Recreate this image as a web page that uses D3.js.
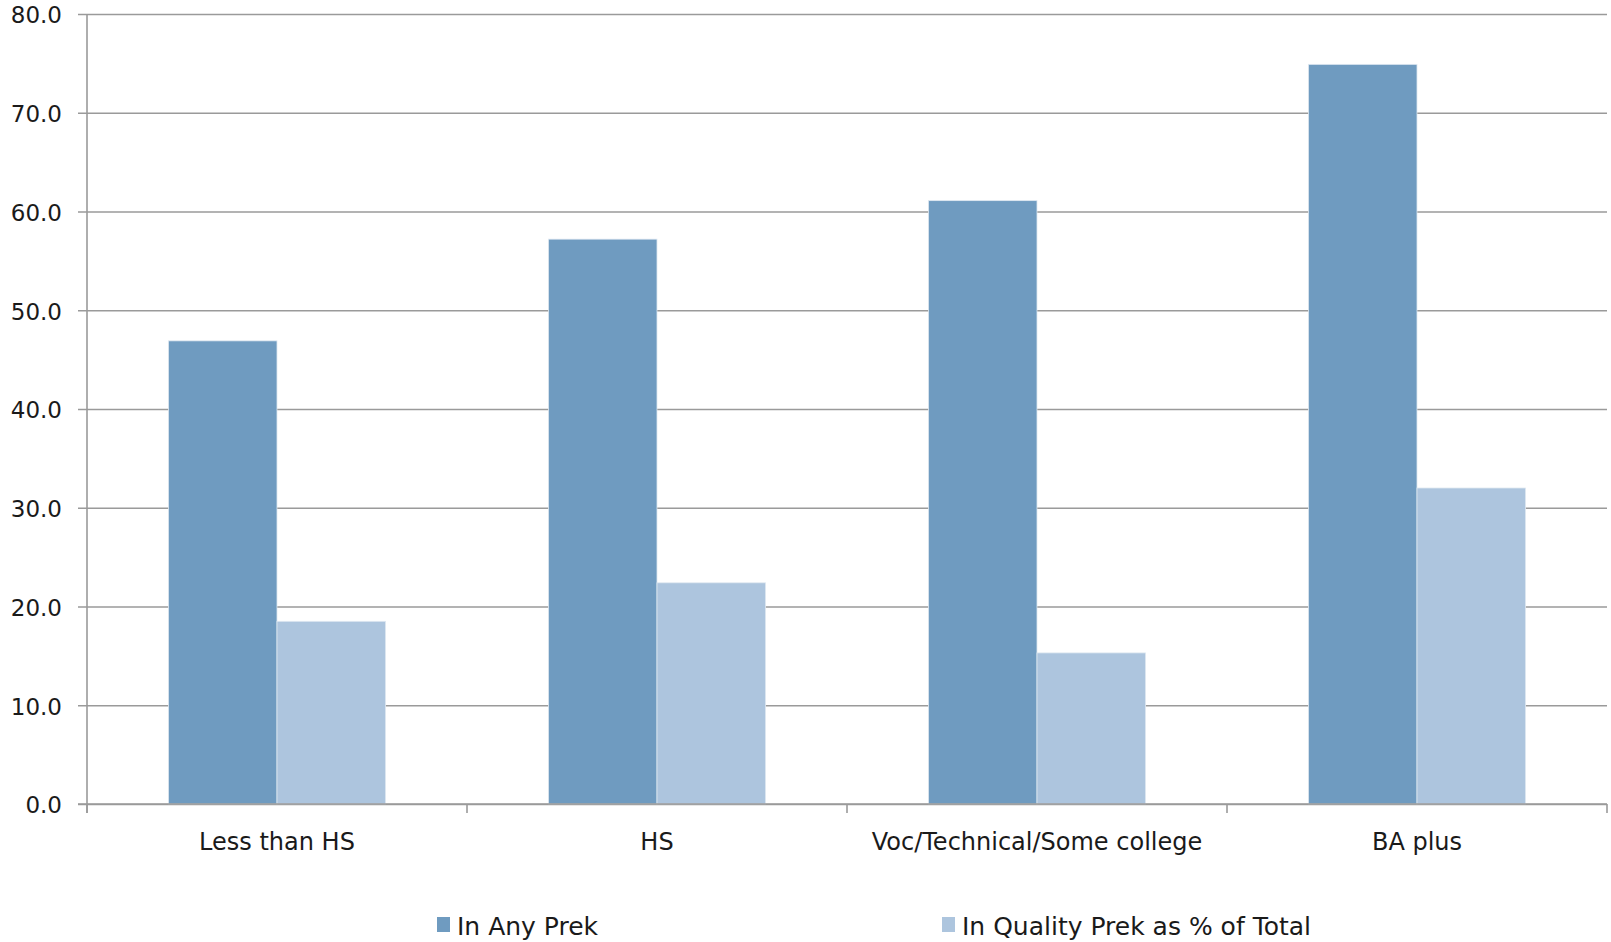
<!DOCTYPE html>
<html>
<head>
<meta charset="utf-8">
<script src="https://cdn.jsdelivr.net/npm/d3@7"></script>
<style>
html,body{margin:0;padding:0;background:#fff;}
svg{display:block;}
text{font-family:"DejaVu Sans",sans-serif;fill:#1a1a1a;}
</style>
</head>
<body>
<svg id="chart" width="1611" height="942"></svg>
<script>
const categories = ["Less than HS", "HS", "Voc/Technical/Some college", "BA plus"];
const seriesNames = ["In Any Prek", "In Quality Prek as % of Total"];
const inAnyPrek = [46.9, 57.2, 61.1, 74.9];
const inQualityPrek = [18.5, 22.4, 15.3, 32.0];
const yTicks = [0, 10, 20, 30, 40, 50, 60, 70, 80];
const colors = ["#6f9bc0", "#adc5de"];

const W = 1611, H = 942;
const margin = {top: 14, right: 4, bottom: 138, left: 87};
const width = W - margin.left - margin.right;
const height = H - margin.top - margin.bottom;

const svg = d3.select("#chart");
const g = svg.append("g").attr("transform", `translate(${margin.left},${margin.top})`);

const x0 = d3.scaleBand().domain(categories).range([0, width]).paddingInner(0).paddingOuter(0);
const x1 = d3.scaleBand().domain(seriesNames).range([0, x0.bandwidth()]).paddingOuter(0.75).paddingInner(0);
const y = d3.scaleLinear().domain([0, 80]).range([height, 0]);

// gridlines + y labels
const yAxis = d3.axisLeft(y).tickValues(yTicks).tickFormat(d3.format(".1f")).tickSizeInner(-width).tickSizeOuter(0).tickPadding(25);
const ya = g.append("g").call(yAxis);
ya.select(".domain").remove();
ya.selectAll(".tick line").attr("x1", -9).attr("x2", width).attr("stroke", "#9a9a9a").attr("stroke-width", 1.6);
ya.selectAll(".tick text").attr("font-size", 23).attr("font-family", "DejaVu Sans").attr("fill", "#1a1a1a").attr("dy", "0.38em");

// bars
const data = categories.map((c, i) => ({cat: c, vals: [inAnyPrek[i], inQualityPrek[i]]}));
const groups = g.append("g").selectAll("g").data(data).join("g")
  .attr("transform", d => `translate(${x0(d.cat)},0)`);
groups.selectAll("rect").data(d => d.vals.map((v, j) => ({s: seriesNames[j], v, j}))).join("rect")
  .attr("x", d => x1(d.s))
  .attr("width", x1.bandwidth())
  .attr("y", d => y(d.v))
  .attr("height", d => y(0) - y(d.v))
  .attr("fill", d => colors[d.j])
  .attr("stroke", "#dfe8f1")
  .attr("stroke-width", 0.8);

// zero axis line and y axis line on top
g.append("line").attr("x1", -9).attr("x2", width).attr("y1", y(0)).attr("y2", y(0))
  .attr("stroke", "#9a9a9a").attr("stroke-width", 1.6);
g.append("line").attr("x1", 0).attr("x2", 0).attr("y1", y(80)).attr("y2", y(0) + 9)
  .attr("stroke", "#9a9a9a").attr("stroke-width", 1.6);

// x axis
const xAxis = d3.axisBottom(x0).tickSize(0).tickPadding(0);
const xa = g.append("g").attr("transform", `translate(0,${height})`).call(xAxis);
xa.select(".domain").remove();
xa.selectAll(".tick text").attr("font-size", 24).attr("font-family", "DejaVu Sans").attr("fill", "#1a1a1a")
  .attr("y", 46).attr("dy", 0);
// boundary tick marks
const bounds = categories.map(c => x0(c)).concat([width]);
g.append("g").selectAll("line").data(bounds).join("line")
  .attr("x1", d => d).attr("x2", d => d).attr("y1", height).attr("y2", height + 9)
  .attr("stroke", "#9a9a9a").attr("stroke-width", 1.6);

// legend
const legendX = [437, 942];
const lg = svg.append("g");
seriesNames.forEach((s, i) => {
  lg.append("rect").attr("x", legendX[i]).attr("y", 917).attr("width", 13).attr("height", 15).attr("fill", colors[i]);
  lg.append("text").attr("x", legendX[i] + 20).attr("y", 935).attr("font-size", 25).text(s);
});
</script>
</body>
</html>
